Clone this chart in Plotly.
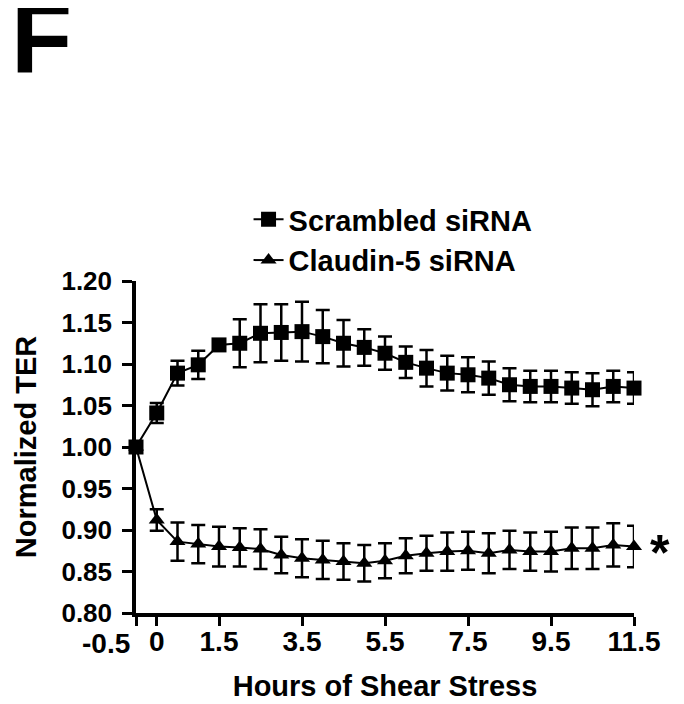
import plotly.graph_objects as go

hours = [-0.5, 0.0, 0.5, 1.0, 1.5, 2.0, 2.5, 3.0, 3.5, 4.0, 4.5, 5.0, 5.5,
         6.0, 6.5, 7.0, 7.5, 8.0, 8.5, 9.0, 9.5, 10.0, 10.5, 11.0, 11.5]

scrambled = [1.000, 1.041, 1.089, 1.099, 1.123, 1.125, 1.137, 1.138, 1.139,
             1.133, 1.125, 1.120, 1.113, 1.102, 1.095, 1.089, 1.087, 1.083,
             1.075, 1.073, 1.073, 1.071, 1.069, 1.073, 1.071]
scrambled_err = [0.0, 0.012, 0.015, 0.017, 0.005, 0.029, 0.035, 0.034, 0.036,
                 0.032, 0.028, 0.022, 0.020, 0.019, 0.022, 0.021, 0.021, 0.020,
                 0.020, 0.019, 0.019, 0.019, 0.020, 0.019, 0.019]

claudin = [1.000, 0.912, 0.886, 0.883, 0.880, 0.879, 0.877, 0.870, 0.866,
           0.864, 0.862, 0.860, 0.863, 0.869, 0.872, 0.874, 0.875, 0.872,
           0.876, 0.874, 0.874, 0.878, 0.878, 0.882, 0.880]
claudin_err = [0.0, 0.013, 0.023, 0.023, 0.024, 0.023, 0.024, 0.022, 0.023,
               0.023, 0.022, 0.022, 0.021, 0.021, 0.021, 0.023, 0.023, 0.024,
               0.023, 0.023, 0.024, 0.025, 0.025, 0.026, 0.025]

x_tickvals = [-0.5, 0, 1.5, 3.5, 5.5, 7.5, 9.5, 11.5]
x_ticktext = ["-0.5", "0", "1.5", "3.5", "5.5", "7.5", "9.5", "11.5"]
y_tickvals = [0.80, 0.85, 0.90, 0.95, 1.00, 1.05, 1.10, 1.15, 1.20]
y_ticktext = ["0.80", "0.85", "0.90", "0.95", "1.00", "1.05", "1.10", "1.15", "1.20"]

FONT = "Liberation Sans, Arial, sans-serif"

fig = go.Figure()
fig.add_trace(go.Scatter(
    x=hours, y=claudin, name="Claudin-5 siRNA", mode="lines+markers",
    line=dict(color="black", width=2),
    marker=dict(symbol="triangle-up", size=14, color="black"),
    error_y=dict(type="data", array=claudin_err, color="black", thickness=2.5, width=7),
    cliponaxis=False, legendrank=2, legendgroup="c"))
fig.add_trace(go.Scatter(
    x=hours, y=scrambled, name="Scrambled siRNA", mode="lines+markers",
    line=dict(color="black", width=2),
    marker=dict(symbol="square", size=15, color="black"),
    error_y=dict(type="data", array=scrambled_err, color="black", thickness=2.5, width=7),
    cliponaxis=False, legendrank=1, legendgroup="s"))

# x tick labels: first one drawn as an annotation, right-aligned to its tick
x_labels_axis = [""] + x_ticktext[1:]

# the page body adds an 8px offset, so margins are shifted to compensate
fig.update_layout(
    width=684, height=704,
    margin=dict(l=128, r=58, t=273, b=99, autoexpand=False),
    paper_bgcolor="white", plot_bgcolor="white",
    font=dict(family=FONT, color="black", weight="bold"),
    showlegend=True,
    legend=dict(x=0.226, y=1.262, xanchor="left", yanchor="top",
                font=dict(size=29, family=FONT, weight="bold", color="black"),
                bgcolor="rgba(0,0,0,0)", traceorder="grouped", tracegroupgap=0),
    xaxis=dict(range=[-0.5, 11.5], tickmode="array", tickvals=x_tickvals,
               ticktext=x_labels_axis, tickangle=0, automargin=False,
               ticks="outside", ticklen=9, tickwidth=3, tickcolor="black",
               ticklabelstandoff=-8,
               showline=True, linewidth=3.5, linecolor="black",
               showgrid=False, zeroline=False,
               tickfont=dict(size=28, family=FONT, weight="bold"),
               title=dict(text="Hours of Shear Stress", standoff=20,
                          font=dict(size=29, family=FONT, weight="bold"))),
    yaxis=dict(range=[0.80, 1.20], tickmode="array", tickvals=y_tickvals,
               ticktext=y_ticktext, automargin=False,
               ticks="outside", ticklen=10, tickwidth=3, tickcolor="black",
               ticklabelstandoff=5,
               showline=True, linewidth=3.5, linecolor="black",
               showgrid=False, zeroline=False,
               tickfont=dict(size=26, family=FONT, weight="bold"),
               title=dict(text="Normalized TER", standoff=17,
                          font=dict(size=29, family=FONT, weight="bold"))),
)

fig.add_annotation(x=x_tickvals[0], y=0, xref="x", yref="paper",
                   text=x_ticktext[0], showarrow=False, xanchor="right",
                   yanchor="top", xshift=-4, yshift=-13,
                   font=dict(size=28, family=FONT, weight="bold"))

fig.add_annotation(x=hours[-1], y=claudin[-1], xref="x", yref="y", text="*",
                   showarrow=False, xanchor="left", yanchor="middle",
                   xshift=14, yshift=-6,
                   font=dict(size=50, family=FONT, weight="bold"))

fig.add_annotation(x=-0.19, y=1.735, xref="paper", yref="paper", text="F",
                   showarrow=False, xanchor="center", yanchor="middle",
                   font=dict(size=100, family=FONT, weight="bold"))

fig.write_html("out.html")
